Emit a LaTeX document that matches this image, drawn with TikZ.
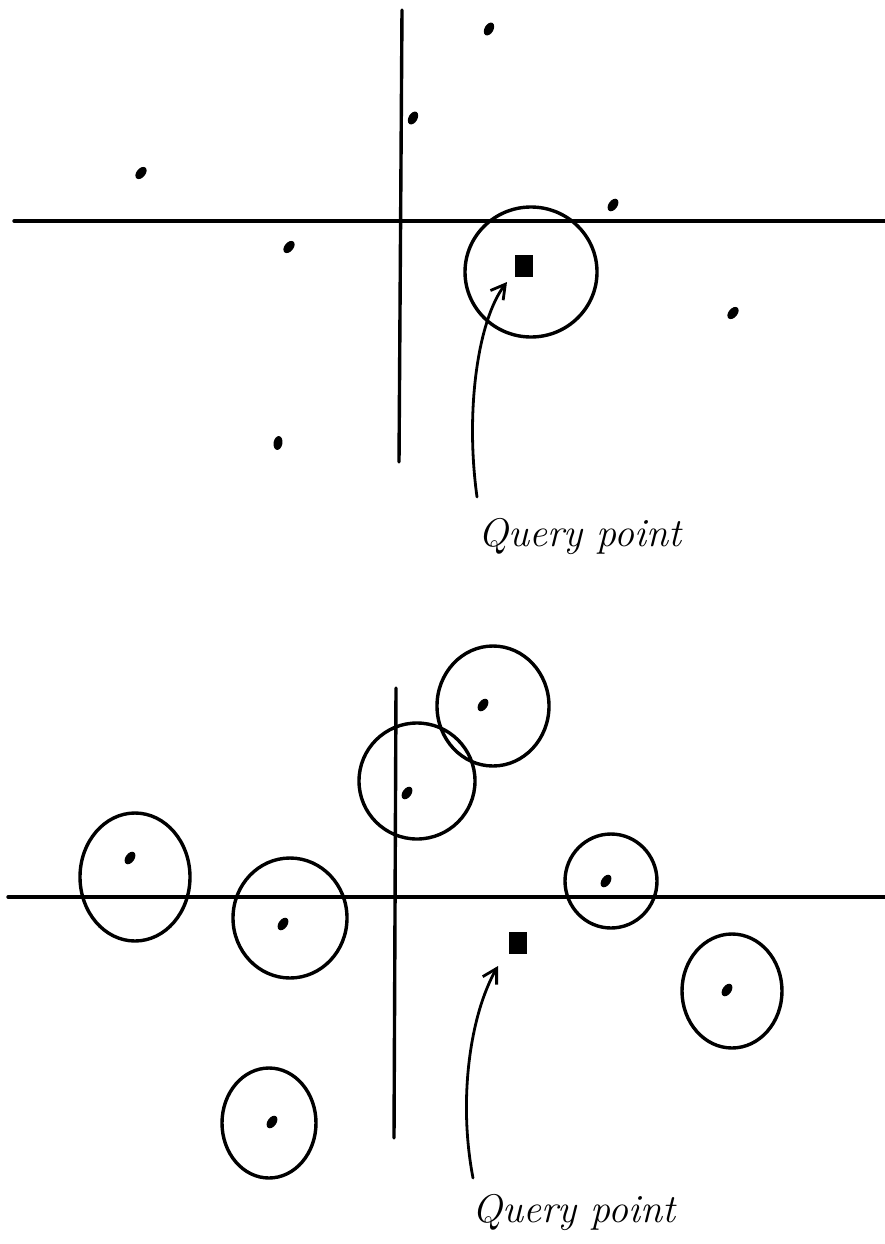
\documentclass[tikz,border=0pt]{standalone}
\usetikzlibrary{arrows.meta}
\tikzset{
  pen/.style={line width=3.4pt, line cap=round, line join=round},
  axis/.style={pen},
  ring/.style={pen},
  datadot/.style={fill=black},
  qpt/.style={fill=black, minimum width=18pt, minimum height=22pt, inner sep=0pt, rectangle},
  qlabel/.style={font=\fontsize{40}{44}\selectfont\itshape, anchor=base, inner sep=0pt},
  pointer/.style={pen, line width=2.8pt, -{Straight Barb[length=14pt,width=16pt,line width=2.8pt]}},
}
\begin{document}
\begin{tikzpicture}[x=1pt,y=-1pt]
\useasboundingbox (0,0) rectangle (885,1244);

% ---------- top panel ----------
\coordinate (tx1) at (14,221); \coordinate (tx2) at (885,221);
\coordinate (ty1) at (402,10);  \coordinate (ty2) at (399,462);
\draw[axis] (tx1) -- (tx2);
\draw[axis] (ty1) -- (ty2);

\foreach \x/\y/\r in {489/29/-30, 413/118/-30, 141/173/-40, 613/205/-35, 289/247/-40, 733/313/-40, 278/443/-10}
  \fill[datadot] (\x,\y) ellipse [x radius=4.4, y radius=7, rotate=\r];

\draw[ring] (531,272) ellipse [x radius=66, y radius=65];
\node[qpt] (q1) at (524,266) {};
\node[qlabel] (l1) at (580,546) {Query point};
\coordinate (s1) at (477,497);
\draw[pointer] (s1) .. controls (465,410) and (478,320) .. (507,282);

% ---------- bottom panel ----------
\coordinate (bx1) at (8,897); \coordinate (bx2) at (885,897);
\coordinate (by1) at (396,688); \coordinate (by2) at (394,1138);
\draw[axis] (bx1) -- (bx2);
\draw[axis] (by1) -- (by2);

\foreach \cx/\cy/\rx/\ry/\dx/\dy in {
  493/706/56/60/483/705,
  417/781/58/58/407/793,
  135/877/55/64/130/858,
  290/918/57/60/283/924,
  611/881/46/47/606/881,
  732/991/50/57/727/990,
  269/1123/47/55/272/1122}{
  \draw[ring] (\cx,\cy) ellipse [x radius=\rx, y radius=\ry];
  \fill[datadot] (\dx,\dy) ellipse [x radius=4.4, y radius=7, rotate=-35];
}

\node[qpt] (q2) at (518,943) {};
\node[qlabel] (l2) at (574,1222) {Query point};
\coordinate (s2) at (473,1178);
\draw[pointer] (s2) .. controls (458,1100) and (470,1015) .. (498,966);
\end{tikzpicture}
\end{document}
